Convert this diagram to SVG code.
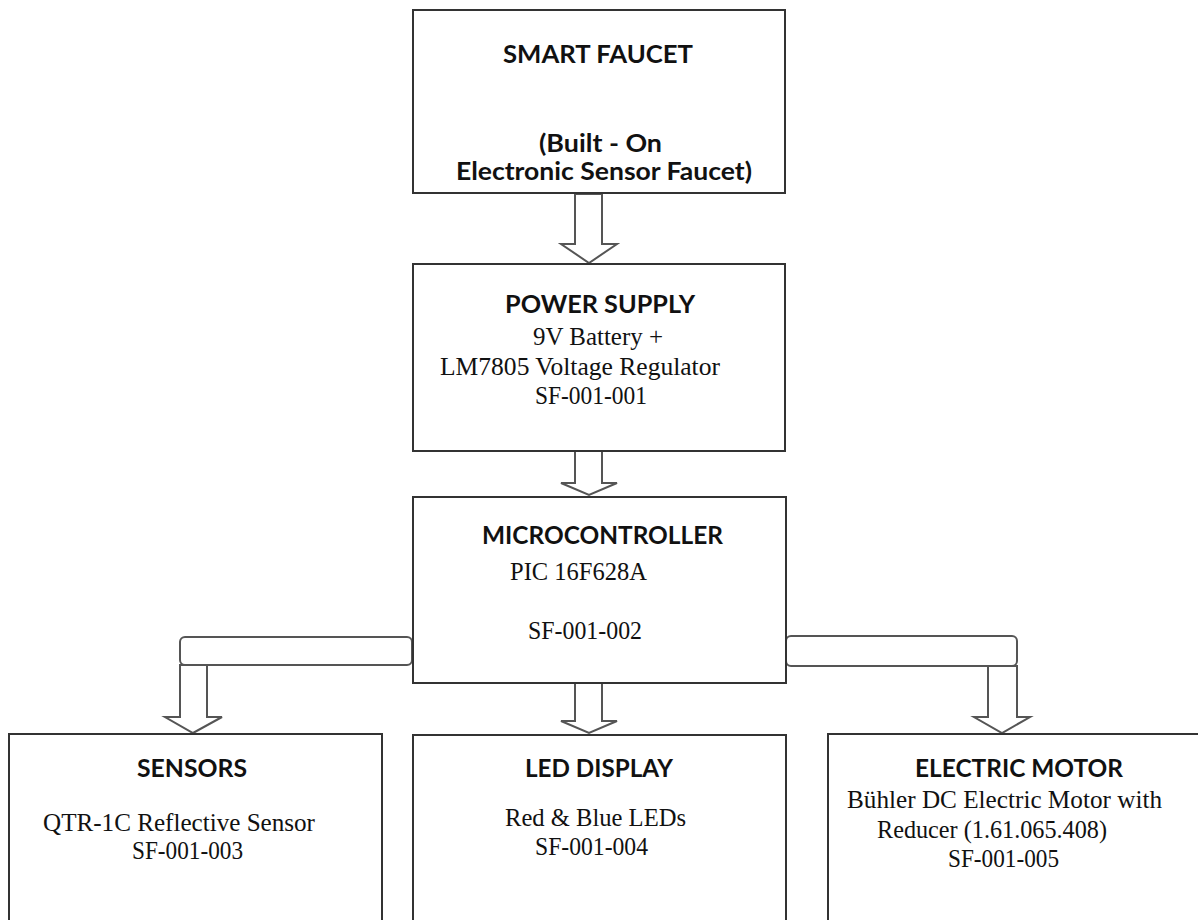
<svg xmlns="http://www.w3.org/2000/svg" width="1198" height="920" viewBox="0 0 1198 920">
<style>
.box{fill:#fff;stroke:#333;stroke-width:2}
.arr{fill:#fff;stroke:#555;stroke-width:2;stroke-linejoin:miter}
.t{font-family:Lato,"Liberation Sans",sans-serif;font-weight:bold;font-size:24px;fill:#111}
.s{font-family:"Liberation Serif","Times New Roman",serif;font-size:24.5px;fill:#111}
</style>
<rect width="1198" height="920" fill="#fff"/>
<g id="connectors">
<polygon class="arr" points="575,194 602,194 602,244 617,244 589,263 561,244 575,244"/>
<polygon class="arr" points="575,451 602,451 602,483 617,483 589,495 561,483 575,483"/>
<polygon class="arr" points="575,683 602,683 602,721 617,721 589,733 561,721 575,721"/>
<rect class="arr" x="180" y="637" width="232" height="28" rx="5"/>
<polygon class="arr" points="180,665 207,665 207,717 222,717 193,733 165,717 180,717"/>
<rect class="arr" x="786" y="636" width="231" height="30" rx="5"/>
<polygon class="arr" points="988,666 1017,666 1017,717 1030,717 1002,733 974,717 988,717"/>
</g>
<g id="smart-faucet">
<rect class="box" x="413" y="10" width="372" height="183"/>
<text class="t" x="503" y="63" textLength="190" lengthAdjust="spacingAndGlyphs">SMART FAUCET</text>
<text class="t" x="539" y="152" textLength="123" lengthAdjust="spacingAndGlyphs">(Built - On</text>
<text class="t" x="456" y="180" textLength="296" lengthAdjust="spacingAndGlyphs">Electronic Sensor Faucet)</text>
</g>
<g id="power-supply">
<rect class="box" x="413" y="264" width="372" height="187"/>
<text class="t" x="505" y="313" textLength="190" lengthAdjust="spacingAndGlyphs">POWER SUPPLY</text>
<text class="s" x="533" y="345" textLength="130" lengthAdjust="spacingAndGlyphs">9V Battery +</text>
<text class="s" x="440" y="375" textLength="280" lengthAdjust="spacingAndGlyphs">LM7805 Voltage Regulator</text>
<text class="s" x="535" y="404" textLength="112" lengthAdjust="spacingAndGlyphs">SF-001-001</text>
</g>
<g id="microcontroller">
<rect class="box" x="413" y="497" width="373" height="186"/>
<text class="t" x="482" y="544" textLength="241" lengthAdjust="spacingAndGlyphs">MICROCONTROLLER</text>
<text class="s" x="510" y="580" textLength="137" lengthAdjust="spacingAndGlyphs">PIC 16F628A</text>
<text class="s" x="528" y="639" textLength="114" lengthAdjust="spacingAndGlyphs">SF-001-002</text>
</g>
<g id="sensors">
<rect class="box" x="9" y="734" width="373" height="200"/>
<text class="t" x="137" y="777" textLength="110" lengthAdjust="spacingAndGlyphs">SENSORS</text>
<text class="s" x="43" y="831" textLength="272" lengthAdjust="spacingAndGlyphs">QTR-1C Reflective Sensor</text>
<text class="s" x="132" y="859" textLength="111" lengthAdjust="spacingAndGlyphs">SF-001-003</text>
</g>
<g id="led-display">
<rect class="box" x="413" y="735" width="373" height="200"/>
<text class="t" x="525" y="777" textLength="148" lengthAdjust="spacingAndGlyphs">LED DISPLAY</text>
<text class="s" x="505" y="826" textLength="181" lengthAdjust="spacingAndGlyphs">Red &amp; Blue LEDs</text>
<text class="s" x="535" y="855" textLength="113" lengthAdjust="spacingAndGlyphs">SF-001-004</text>
</g>
<g id="electric-motor">
<rect class="box" x="828" y="734" width="390" height="200"/>
<text class="t" x="915" y="777" textLength="208" lengthAdjust="spacingAndGlyphs">ELECTRIC MOTOR</text>
<text class="s" x="847" y="808" textLength="315" lengthAdjust="spacingAndGlyphs">Bühler DC Electric Motor with</text>
<text class="s" x="877" y="838" textLength="230" lengthAdjust="spacingAndGlyphs">Reducer (1.61.065.408)</text>
<text class="s" x="948" y="867" textLength="111" lengthAdjust="spacingAndGlyphs">SF-001-005</text>
</g>
</svg>
